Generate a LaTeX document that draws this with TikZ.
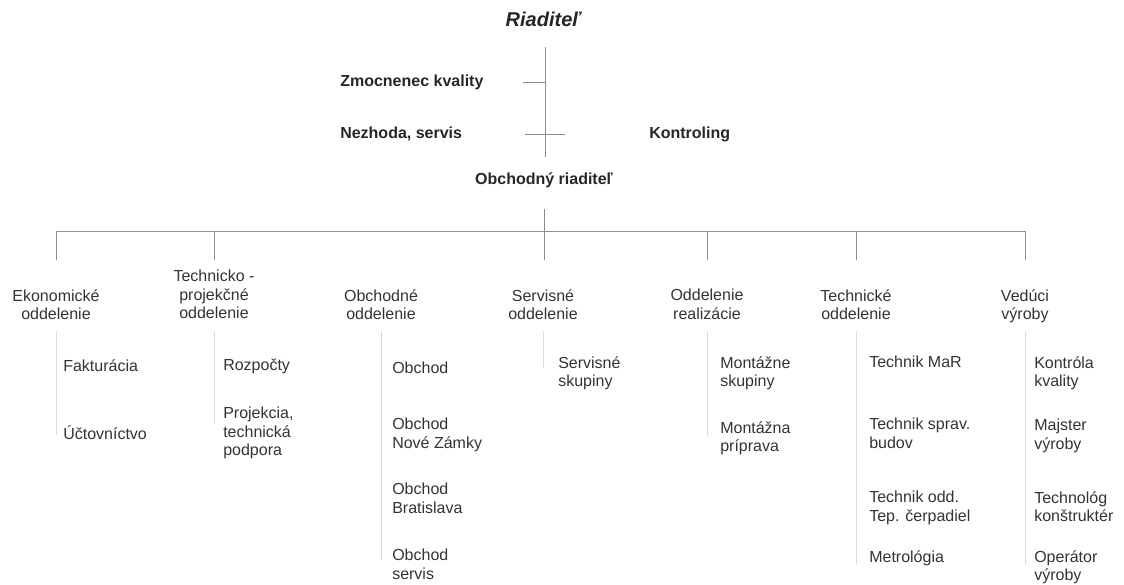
\documentclass[tikz,border=0pt]{standalone}
\usepackage{fontspec}
\setmainfont{Liberation Sans}
\usetikzlibrary{calc}
\tikzstyle{conn}=[draw=black!45,line width=0.5pt]
\tikzstyle{subline}=[draw=black!14,line width=0.5pt]
\tikzstyle{headlabel}=[inner sep=0pt,anchor=west,font=\bfseries\fontsize{12}{13.9}\selectfont,text=black!85]
\tikzstyle{deptlabel}=[inner sep=0pt,anchor=north,align=center,font=\fontsize{12}{13.9}\selectfont,text=black!80]
\tikzstyle{subitem}=[inner sep=0pt,anchor=north west,align=left,font=\fontsize{12}{13.9}\selectfont,text=black!80]
\newcommand{\subnode}[4]{% Syntax: {name}{x}{y}{text}, (x,y) = top left corner
	\node[subitem] (#1) at (#2,#3) {#4};
}
\begin{document}
\begin{tikzpicture}[x=0.75pt,y=-0.75pt] % one unit = one pixel of the scan
	\useasboundingbox (0,0) rectangle (1124,585);
	\begin{scope}
	\node[headlabel,anchor=center,font=\bfseries\itshape\fontsize{15}{17}\selectfont] (riaditel) at (543,19) {Riaditeľ};
	\node[headlabel] (zmocnenec) at (340,82) {Zmocnenec kvality};
	\node[headlabel] (nezhoda) at (340,134) {Nezhoda, servis};
	\node[headlabel] (kontroling) at (649,134) {Kontroling};
	\node[headlabel,anchor=center] (obchriad) at (544,180) {Obchodný riaditeľ};
	\coordinate (stemtop) at (545,47);
	\coordinate (stembot) at (545,157);
	\draw[conn] (stemtop) -- (stembot);
	\draw[conn] (stemtop |- zmocnenec) -- ++(-22,0);
	\draw[conn] ($(stemtop |- nezhoda)+(-20,0)$) -- ++(40,0);
	\end{scope}
	% departments
	\node[deptlabel] (ekon) at (56,289) {Ekonomické\\oddelenie};
	\node[deptlabel] (techproj) at (214,270) {Technicko -\\projekčné\\oddelenie};
	\node[deptlabel] (obch) at (381,289) {Obchodné\\oddelenie};
	\node[deptlabel] (serv) at (543,289) {Servisné\\oddelenie};
	\node[deptlabel] (real) at (707,289) {Oddelenie\\realizácie};
	\node[deptlabel] (tech) at (856,289) {Technické\\oddelenie};
	\node[deptlabel] (vyroba) at (1025,289) {Vedúci\\výroby};
	\coordinate (bus) at (0,231);
	\coordinate (busend) at (0,260);
	\coordinate (subtop) at (0,331);
	\draw[conn] ($(obchriad.south)+(0,21)$) -- (obchriad |- busend);
	\draw[conn] (ekon |- bus) -- (vyroba |- bus);
	\foreach \d in {ekon,techproj,real,tech,vyroba}
		\draw[conn] (\d |- bus) -- (\d |- busend);
	% sub units
	\subnode{ekon1}{63}{359}{Fakturácia}
	\subnode{ekon2}{63}{425}{Účtovníctvo}
	\subnode{techproj1}{223}{359}{Rozpočty}
	\subnode{techproj2}{223}{407}{Projekcia,\\technická\\podpora}
	\subnode{obch1}{392}{362}{Obchod}
	\subnode{obch2}{392}{418}{Obchod\\Nové Zámky}
	\subnode{obch3}{392}{483}{Obchod\\Bratislava}
	\subnode{obch4}{392}{549}{Obchod\\servis}
	\subnode{serv1}{558}{356}{Servisné\\skupiny}
	\subnode{real1}{720}{356}{Montážne\\skupiny}
	\subnode{real2}{720}{421}{Montážna\\príprava}
	\subnode{tech1}{869}{356}{Technik MaR}
	\subnode{tech2}{869}{418}{Technik sprav.\\budov}
	\subnode{tech3}{869}{491}{Technik odd.\\Tep. čerpadiel}
	\subnode{tech4}{869}{550}{Metrológia}
	\subnode{vyroba1}{1034}{356}{Kontróla\\kvality}
	\subnode{vyroba2}{1034}{419}{Majster\\výroby}
	\subnode{vyroba3}{1034}{491}{Technológ\\konštruktér}
	\subnode{vyroba4}{1034}{550}{Operátor\\výroby}
	\foreach \d/\e in {ekon/104,techproj/93,obch/229,serv/37,real/105,tech/233,vyroba/234}
		\draw[subline] (\d |- subtop) -- ($(\d |- subtop)+(0,\e)$);
\end{tikzpicture}
\end{document}
